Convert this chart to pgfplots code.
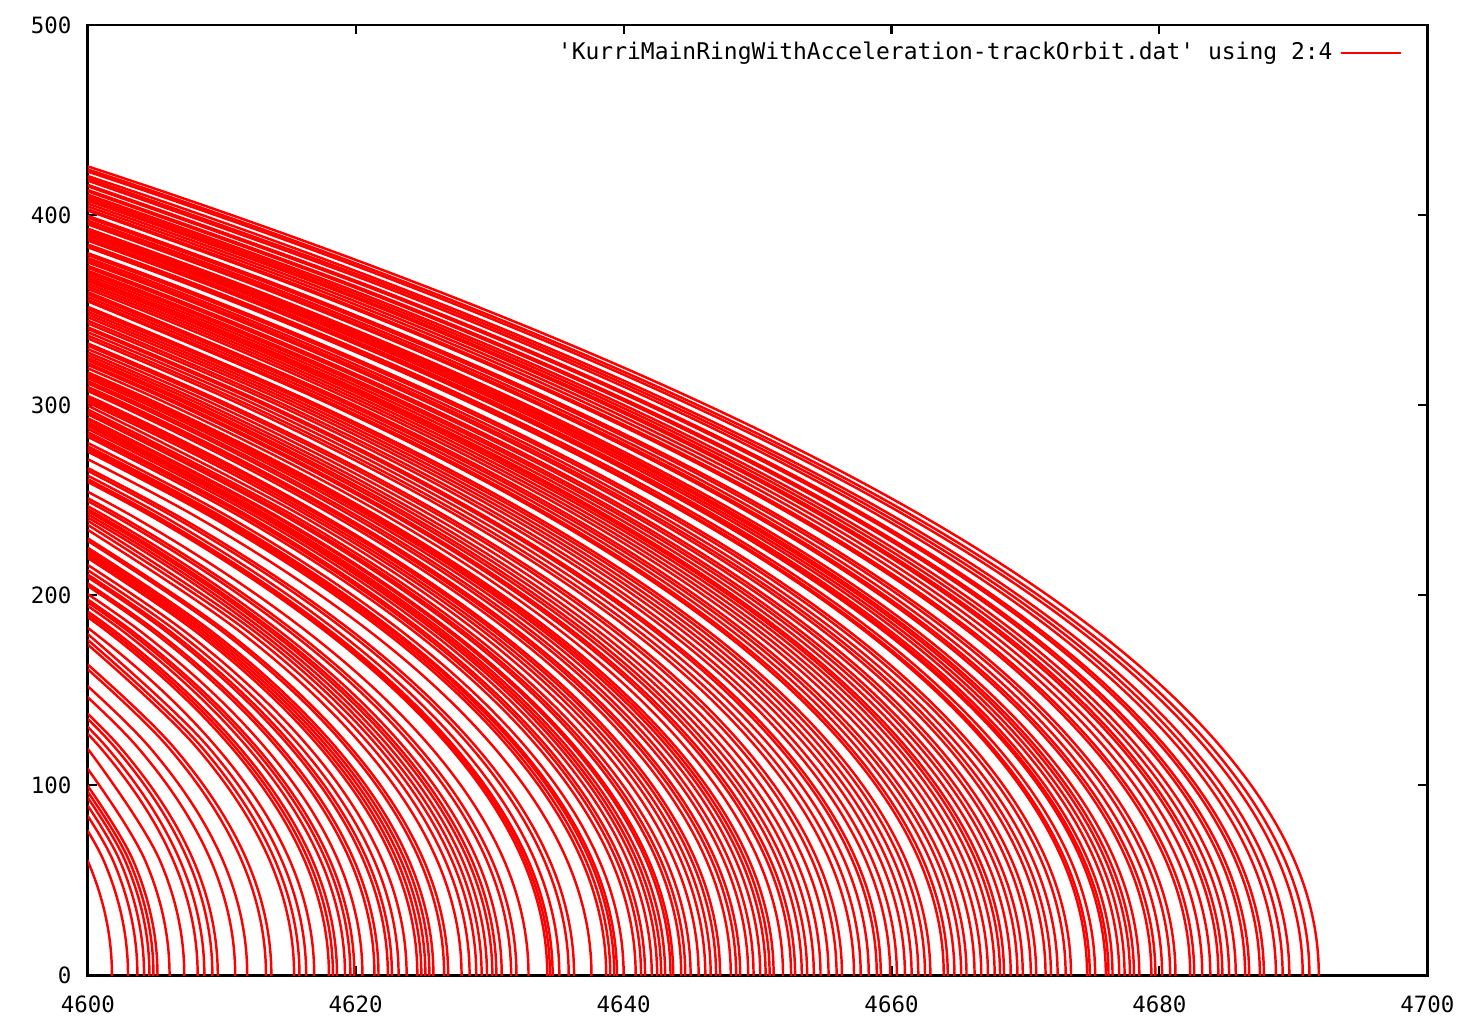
\documentclass[border=0pt]{standalone}
\usepackage{fontspec}
\usepackage{pgfplots}
\pgfplotsset{compat=1.18}
\newfontfamily\gp{DejaVu Sans Mono}
\newcommand{\gpf}{\gp\fontsize{6.4}{7}\selectfont}

% one style for every tracked orbit; points are read every 60 in y
\pgfplotsset{trk/.style={red, line width=0.7pt, smooth, tension=0.6, mark=none}}

\begin{document}
\begin{tikzpicture}
\begin{axis}[
  scale only axis,
  width=13.42cm, height=9.52cm,
  xmin=4600, xmax=4700, ymin=0, ymax=500,
  xtick={4600,4620,...,4700},
  ytick={0,100,...,500},
  axis line style={line width=0.8pt, black},
  tick style={line width=0.6pt, black},
  major tick length=0.09cm,
  tick align=inside,
  /pgf/number format/1000 sep={},
  /pgf/number format/assume math mode=true,
  tick label style={font=\gpf},
  xticklabel style={yshift=-0.08cm},
  yticklabel style={xshift=-0.04cm},
  legend plot pos=right,
  legend cell align=right,
  legend image code/.code={\draw[red, line width=0.6pt] (0.12cm,0cm) -- (0.72cm,0cm);},
  legend style={at={(rel axis cs:1,1)}, anchor=north east, xshift=-0.25cm, yshift=-0.09cm,
    draw=none, fill=none, font=\gp\fontsize{6.55}{7}\selectfont, inner sep=0pt},
]
\addplot[trk] coordinates {(4690.1,-60)(4691.9,0)(4690.1,60)(4684.6,120)(4675.5,180)(4662.7,240)(4646.2,300)(4626.1,360)(4602.4,420)(4575.0,480)};
\addlegendentry{'KurriMainRingWithAcceleration-trackOrbit.dat' using 2:4}
\addplot[trk] coordinates {(4689.4,-60)(4691.2,0)(4689.4,60)(4683.9,120)(4674.8,180)(4662.0,240)(4645.5,300)(4625.4,360)(4601.7,420)(4574.3,480)};
\addplot[trk] coordinates {(4688.9,-60)(4690.7,0)(4688.9,60)(4683.4,120)(4674.3,180)(4661.5,240)(4645.0,300)(4624.9,360)(4601.2,420)(4573.8,480)};
\addplot[trk] coordinates {(4687.9,-60)(4689.7,0)(4687.9,60)(4682.4,120)(4673.3,180)(4660.5,240)(4644.0,300)(4623.9,360)(4600.2,420)(4572.8,480)};
\addplot[trk] coordinates {(4687.4,-60)(4689.2,0)(4687.4,60)(4681.9,120)(4672.8,180)(4660.0,240)(4643.5,300)(4623.4,360)(4599.7,420)};
\addplot[trk] coordinates {(4686.9,-60)(4688.7,0)(4686.9,60)(4681.4,120)(4672.3,180)(4659.5,240)(4643.0,300)(4622.9,360)(4599.2,420)};
\addplot[trk] coordinates {(4686.0,-60)(4687.8,0)(4686.0,60)(4680.5,120)(4671.4,180)(4658.6,240)(4642.1,300)(4622.0,360)(4598.3,420)};
\addplot[trk] coordinates {(4685.7,-60)(4687.5,0)(4685.7,60)(4680.2,120)(4671.1,180)(4658.3,240)(4641.8,300)(4621.7,360)(4598.0,420)};
\addplot[trk] coordinates {(4684.9,-60)(4686.7,0)(4684.9,60)(4679.4,120)(4670.3,180)(4657.5,240)(4641.0,300)(4620.9,360)(4597.2,420)};
\addplot[trk] coordinates {(4684.6,-60)(4686.4,0)(4684.6,60)(4679.1,120)(4670.0,180)(4657.2,240)(4640.7,300)(4620.6,360)(4596.9,420)};
\addplot[trk] coordinates {(4683.9,-60)(4685.7,0)(4683.9,60)(4678.4,120)(4669.3,180)(4656.5,240)(4640.0,300)(4619.9,360)(4596.2,420)};
\addplot[trk] coordinates {(4683.4,-60)(4685.2,0)(4683.4,60)(4677.9,120)(4668.8,180)(4656.0,240)(4639.5,300)(4619.4,360)(4595.7,420)};
\addplot[trk] coordinates {(4682.9,-60)(4684.7,0)(4682.9,60)(4677.4,120)(4668.3,180)(4655.5,240)(4639.0,300)(4618.9,360)(4595.2,420)};
\addplot[trk] coordinates {(4682.6,-60)(4684.4,0)(4682.6,60)(4677.1,120)(4668.0,180)(4655.2,240)(4638.7,300)(4618.6,360)(4594.9,420)};
\addplot[trk] coordinates {(4682.0,-60)(4683.8,0)(4682.0,60)(4676.5,120)(4667.4,180)(4654.6,240)(4638.1,300)(4618.0,360)(4594.3,420)};
\addplot[trk] coordinates {(4681.4,-60)(4683.2,0)(4681.4,60)(4675.9,120)(4666.8,180)(4654.0,240)(4637.5,300)(4617.4,360)(4593.7,420)};
\addplot[trk] coordinates {(4680.8,-60)(4682.6,0)(4680.8,60)(4675.3,120)(4666.2,180)(4653.4,240)(4636.9,300)(4616.8,360)(4593.1,420)};
\addplot[trk] coordinates {(4680.5,-60)(4682.3,0)(4680.5,60)(4675.0,120)(4665.9,180)(4653.1,240)(4636.6,300)(4616.5,360)(4592.8,420)};
\addplot[trk] coordinates {(4679.4,-60)(4681.2,0)(4679.4,60)(4673.9,120)(4664.8,180)(4652.0,240)(4635.5,300)(4615.4,360)(4591.7,420)};
\addplot[trk] coordinates {(4679.0,-60)(4680.8,0)(4679.0,60)(4673.5,120)(4664.4,180)(4651.6,240)(4635.1,300)(4615.0,360)(4591.3,420)};
\addplot[trk] coordinates {(4678.4,-60)(4680.2,0)(4678.4,60)(4672.9,120)(4663.8,180)(4651.0,240)(4634.5,300)(4614.4,360)(4590.7,420)};
\addplot[trk] coordinates {(4677.9,-60)(4679.7,0)(4677.9,60)(4672.4,120)(4663.3,180)(4650.5,240)(4634.0,300)(4613.9,360)(4590.2,420)};
\addplot[trk] coordinates {(4677.6,-60)(4679.4,0)(4677.6,60)(4672.1,120)(4663.0,180)(4650.2,240)(4633.7,300)(4613.6,360)(4589.9,420)};
\addplot[trk] coordinates {(4676.7,-60)(4678.5,0)(4676.7,60)(4671.2,120)(4662.1,180)(4649.3,240)(4632.8,300)(4612.7,360)(4589.0,420)};
\addplot[trk] coordinates {(4676.3,-60)(4678.1,0)(4676.3,60)(4670.8,120)(4661.7,180)(4648.9,240)(4632.4,300)(4612.3,360)(4588.6,420)};
\addplot[trk] coordinates {(4676.0,-60)(4677.8,0)(4676.0,60)(4670.5,120)(4661.4,180)(4648.6,240)(4632.1,300)(4612.0,360)(4588.3,420)};
\addplot[trk] coordinates {(4675.6,-60)(4677.4,0)(4675.6,60)(4670.1,120)(4661.0,180)(4648.2,240)(4631.7,300)(4611.6,360)(4587.9,420)};
\addplot[trk] coordinates {(4675.2,-60)(4677.0,0)(4675.2,60)(4669.7,120)(4660.6,180)(4647.8,240)(4631.3,300)(4611.2,360)(4587.5,420)};
\addplot[trk] coordinates {(4674.7,-60)(4676.5,0)(4674.7,60)(4669.2,120)(4660.1,180)(4647.3,240)(4630.8,300)(4610.7,360)(4587.0,420)};
\addplot[trk] coordinates {(4674.4,-60)(4676.2,0)(4674.4,60)(4668.9,120)(4659.8,180)(4647.0,240)(4630.5,300)(4610.4,360)(4586.7,420)};
\addplot[trk] coordinates {(4674.2,-60)(4676.0,0)(4674.2,60)(4668.7,120)(4659.6,180)(4646.8,240)(4630.3,300)(4610.2,360)(4586.5,420)};
\addplot[trk] coordinates {(4673.4,-60)(4675.2,0)(4673.4,60)(4667.9,120)(4658.8,180)(4646.0,240)(4629.5,300)(4609.4,360)(4585.7,420)};
\addplot[trk] coordinates {(4673.0,-60)(4674.8,0)(4673.0,60)(4667.5,120)(4658.4,180)(4645.6,240)(4629.1,300)(4609.0,360)(4585.3,420)};
\addplot[trk] coordinates {(4672.8,-60)(4674.6,0)(4672.8,60)(4667.3,120)(4658.2,180)(4645.4,240)(4628.9,300)(4608.8,360)(4585.1,420)};
\addplot[trk] coordinates {(4671.6,-60)(4673.4,0)(4671.6,60)(4666.1,120)(4657.0,180)(4644.2,240)(4627.7,300)(4607.6,360)(4583.9,420)};
\addplot[trk] coordinates {(4671.2,-60)(4673.0,0)(4671.2,60)(4665.7,120)(4656.6,180)(4643.8,240)(4627.3,300)(4607.2,360)(4583.5,420)};
\addplot[trk] coordinates {(4670.6,-60)(4672.4,0)(4670.6,60)(4665.1,120)(4656.0,180)(4643.2,240)(4626.7,300)(4606.6,360)(4582.9,420)};
\addplot[trk] coordinates {(4670.1,-60)(4671.9,0)(4670.1,60)(4664.6,120)(4655.5,180)(4642.7,240)(4626.2,300)(4606.1,360)(4582.4,420)};
\addplot[trk] coordinates {(4669.7,-60)(4671.5,0)(4669.7,60)(4664.2,120)(4655.1,180)(4642.3,240)(4625.8,300)(4605.7,360)(4582.0,420)};
\addplot[trk] coordinates {(4669.0,-60)(4670.8,0)(4669.0,60)(4663.5,120)(4654.4,180)(4641.6,240)(4625.1,300)(4605.0,360)(4581.3,420)};
\addplot[trk] coordinates {(4668.6,-60)(4670.4,0)(4668.6,60)(4663.1,120)(4654.0,180)(4641.2,240)(4624.7,300)(4604.6,360)(4580.9,420)};
\addplot[trk] coordinates {(4668.0,-60)(4669.8,0)(4668.0,60)(4662.5,120)(4653.4,180)(4640.6,240)(4624.1,300)(4604.0,360)(4580.3,420)};
\addplot[trk] coordinates {(4667.6,-60)(4669.4,0)(4667.6,60)(4662.1,120)(4653.0,180)(4640.2,240)(4623.7,300)(4603.6,360)(4579.9,420)};
\addplot[trk] coordinates {(4667.1,-60)(4668.9,0)(4667.1,60)(4661.6,120)(4652.5,180)(4639.7,240)(4623.2,300)(4603.1,360)(4579.4,420)};
\addplot[trk] coordinates {(4666.6,-60)(4668.4,0)(4666.6,60)(4661.1,120)(4652.0,180)(4639.2,240)(4622.7,300)(4602.6,360)(4578.9,420)};
\addplot[trk] coordinates {(4666.3,-60)(4668.1,0)(4666.3,60)(4660.8,120)(4651.7,180)(4638.9,240)(4622.4,300)(4602.3,360)(4578.6,420)};
\addplot[trk] coordinates {(4665.9,-60)(4667.7,0)(4665.9,60)(4660.4,120)(4651.3,180)(4638.5,240)(4622.0,300)(4601.9,360)(4578.2,420)};
\addplot[trk] coordinates {(4665.4,-60)(4667.2,0)(4665.4,60)(4659.9,120)(4650.8,180)(4638.0,240)(4621.5,300)(4601.4,360)(4577.7,420)};
\addplot[trk] coordinates {(4664.9,-60)(4666.7,0)(4664.9,60)(4659.4,120)(4650.3,180)(4637.5,240)(4621.0,300)(4600.9,360)(4577.2,420)};
\addplot[trk] coordinates {(4664.4,-60)(4666.2,0)(4664.4,60)(4658.9,120)(4649.8,180)(4637.0,240)(4620.5,300)(4600.4,360)(4576.7,420)};
\addplot[trk] coordinates {(4663.8,-60)(4665.6,0)(4663.8,60)(4658.3,120)(4649.2,180)(4636.4,240)(4619.9,300)(4599.8,360)};
\addplot[trk] coordinates {(4663.4,-60)(4665.2,0)(4663.4,60)(4657.9,120)(4648.8,180)(4636.0,240)(4619.5,300)(4599.4,360)};
\addplot[trk] coordinates {(4662.9,-60)(4664.7,0)(4662.9,60)(4657.4,120)(4648.3,180)(4635.5,240)(4619.0,300)(4598.9,360)};
\addplot[trk] coordinates {(4662.4,-60)(4664.2,0)(4662.4,60)(4656.9,120)(4647.8,180)(4635.0,240)(4618.5,300)(4598.4,360)};
\addplot[trk] coordinates {(4662.1,-60)(4663.9,0)(4662.1,60)(4656.6,120)(4647.5,180)(4634.7,240)(4618.2,300)(4598.1,360)};
\addplot[trk] coordinates {(4661.1,-60)(4662.9,0)(4661.1,60)(4655.6,120)(4646.5,180)(4633.7,240)(4617.2,300)(4597.1,360)};
\addplot[trk] coordinates {(4660.7,-60)(4662.5,0)(4660.7,60)(4655.2,120)(4646.1,180)(4633.3,240)(4616.8,300)(4596.7,360)};
\addplot[trk] coordinates {(4660.2,-60)(4662.0,0)(4660.2,60)(4654.7,120)(4645.6,180)(4632.8,240)(4616.3,300)(4596.2,360)};
\addplot[trk] coordinates {(4659.7,-60)(4661.5,0)(4659.7,60)(4654.2,120)(4645.1,180)(4632.3,240)(4615.8,300)(4595.7,360)};
\addplot[trk] coordinates {(4659.2,-60)(4661.0,0)(4659.2,60)(4653.7,120)(4644.6,180)(4631.8,240)(4615.3,300)(4595.2,360)};
\addplot[trk] coordinates {(4658.6,-60)(4660.4,0)(4658.6,60)(4653.1,120)(4644.0,180)(4631.2,240)(4614.7,300)(4594.6,360)};
\addplot[trk] coordinates {(4658.1,-60)(4659.9,0)(4658.1,60)(4652.6,120)(4643.5,180)(4630.7,240)(4614.2,300)(4594.1,360)};
\addplot[trk] coordinates {(4657.4,-60)(4659.2,0)(4657.4,60)(4651.9,120)(4642.8,180)(4630.0,240)(4613.5,300)(4593.4,360)};
\addplot[trk] coordinates {(4657.1,-60)(4658.9,0)(4657.1,60)(4651.6,120)(4642.5,180)(4629.7,240)(4613.2,300)(4593.1,360)};
\addplot[trk] coordinates {(4656.5,-60)(4658.3,0)(4656.5,60)(4651.0,120)(4641.9,180)(4629.1,240)(4612.6,300)(4592.5,360)};
\addplot[trk] coordinates {(4655.9,-60)(4657.7,0)(4655.9,60)(4650.4,120)(4641.3,180)(4628.5,240)(4612.0,300)(4591.9,360)};
\addplot[trk] coordinates {(4655.4,-60)(4657.2,0)(4655.4,60)(4649.9,120)(4640.8,180)(4628.0,240)(4611.5,300)(4591.4,360)};
\addplot[trk] coordinates {(4654.5,-60)(4656.3,0)(4654.5,60)(4649.0,120)(4639.9,180)(4627.1,240)(4610.6,300)(4590.5,360)};
\addplot[trk] coordinates {(4654.1,-60)(4655.9,0)(4654.1,60)(4648.6,120)(4639.5,180)(4626.7,240)(4610.2,300)(4590.1,360)};
\addplot[trk] coordinates {(4653.5,-60)(4655.3,0)(4653.5,60)(4648.0,120)(4638.9,180)(4626.1,240)(4609.6,300)(4589.5,360)};
\addplot[trk] coordinates {(4652.9,-60)(4654.7,0)(4652.9,60)(4647.4,120)(4638.3,180)(4625.5,240)(4609.0,300)(4588.9,360)};
\addplot[trk] coordinates {(4652.4,-60)(4654.2,0)(4652.4,60)(4646.9,120)(4637.8,180)(4625.0,240)(4608.5,300)(4588.4,360)};
\addplot[trk] coordinates {(4651.9,-60)(4653.7,0)(4651.9,60)(4646.4,120)(4637.3,180)(4624.5,240)(4608.0,300)(4587.9,360)};
\addplot[trk] coordinates {(4651.5,-60)(4653.3,0)(4651.5,60)(4646.0,120)(4636.9,180)(4624.1,240)(4607.6,300)(4587.5,360)};
\addplot[trk] coordinates {(4651.0,-60)(4652.8,0)(4651.0,60)(4645.5,120)(4636.4,180)(4623.6,240)(4607.1,300)(4587.0,360)};
\addplot[trk] coordinates {(4650.7,-60)(4652.5,0)(4650.7,60)(4645.2,120)(4636.1,180)(4623.3,240)(4606.8,300)(4586.7,360)};
\addplot[trk] coordinates {(4650.1,-60)(4651.9,0)(4650.1,60)(4644.6,120)(4635.5,180)(4622.7,240)(4606.2,300)(4586.1,360)};
\addplot[trk] coordinates {(4649.4,-60)(4651.2,0)(4649.4,60)(4643.9,120)(4634.8,180)(4622.0,240)(4605.5,300)(4585.4,360)};
\addplot[trk] coordinates {(4649.1,-60)(4650.9,0)(4649.1,60)(4643.6,120)(4634.5,180)(4621.7,240)(4605.2,300)(4585.1,360)};
\addplot[trk] coordinates {(4648.8,-60)(4650.6,0)(4648.8,60)(4643.3,120)(4634.2,180)(4621.4,240)(4604.9,300)(4584.8,360)};
\addplot[trk] coordinates {(4648.4,-60)(4650.2,0)(4648.4,60)(4642.9,120)(4633.8,180)(4621.0,240)(4604.5,300)(4584.4,360)};
\addplot[trk] coordinates {(4647.9,-60)(4649.7,0)(4647.9,60)(4642.4,120)(4633.3,180)(4620.5,240)(4604.0,300)(4583.9,360)};
\addplot[trk] coordinates {(4647.5,-60)(4649.3,0)(4647.5,60)(4642.0,120)(4632.9,180)(4620.1,240)(4603.6,300)(4583.5,360)};
\addplot[trk] coordinates {(4646.9,-60)(4648.7,0)(4646.9,60)(4641.4,120)(4632.3,180)(4619.5,240)(4603.0,300)(4582.9,360)};
\addplot[trk] coordinates {(4646.6,-60)(4648.4,0)(4646.6,60)(4641.1,120)(4632.0,180)(4619.2,240)(4602.7,300)(4582.6,360)};
\addplot[trk] coordinates {(4646.2,-60)(4648.0,0)(4646.2,60)(4640.7,120)(4631.6,180)(4618.8,240)(4602.3,300)(4582.2,360)};
\addplot[trk] coordinates {(4645.4,-60)(4647.2,0)(4645.4,60)(4639.9,120)(4630.8,180)(4618.0,240)(4601.5,300)(4581.4,360)};
\addplot[trk] coordinates {(4645.1,-60)(4646.9,0)(4645.1,60)(4639.6,120)(4630.5,180)(4617.7,240)(4601.2,300)(4581.1,360)};
\addplot[trk] coordinates {(4644.7,-60)(4646.5,0)(4644.7,60)(4639.2,120)(4630.1,180)(4617.3,240)(4600.8,300)(4580.7,360)};
\addplot[trk] coordinates {(4644.3,-60)(4646.1,0)(4644.3,60)(4638.8,120)(4629.7,180)(4616.9,240)(4600.4,300)(4580.3,360)};
\addplot[trk] coordinates {(4643.8,-60)(4645.6,0)(4643.8,60)(4638.3,120)(4629.2,180)(4616.4,240)(4599.9,300)};
\addplot[trk] coordinates {(4643.2,-60)(4645.0,0)(4643.2,60)(4637.7,120)(4628.6,180)(4615.8,240)(4599.3,300)};
\addplot[trk] coordinates {(4642.8,-60)(4644.6,0)(4642.8,60)(4637.3,120)(4628.2,180)(4615.4,240)(4598.9,300)};
\addplot[trk] coordinates {(4642.5,-60)(4644.3,0)(4642.5,60)(4637.0,120)(4627.9,180)(4615.1,240)(4598.6,300)};
\addplot[trk] coordinates {(4641.9,-60)(4643.7,0)(4641.9,60)(4636.4,120)(4627.3,180)(4614.5,240)(4598.0,300)};
\addplot[trk] coordinates {(4641.7,-60)(4643.5,0)(4641.7,60)(4636.2,120)(4627.1,180)(4614.3,240)(4597.8,300)};
\addplot[trk] coordinates {(4641.3,-60)(4643.1,0)(4641.3,60)(4635.8,120)(4626.7,180)(4613.9,240)(4597.4,300)};
\addplot[trk] coordinates {(4641.0,-60)(4642.8,0)(4641.0,60)(4635.5,120)(4626.4,180)(4613.6,240)(4597.1,300)};
\addplot[trk] coordinates {(4640.7,-60)(4642.5,0)(4640.7,60)(4635.2,120)(4626.1,180)(4613.3,240)(4596.8,300)};
\addplot[trk] coordinates {(4640.3,-60)(4642.1,0)(4640.3,60)(4634.8,120)(4625.7,180)(4612.9,240)(4596.4,300)};
\addplot[trk] coordinates {(4639.8,-60)(4641.6,0)(4639.8,60)(4634.3,120)(4625.2,180)(4612.4,240)(4595.9,300)};
\addplot[trk] coordinates {(4639.5,-60)(4641.3,0)(4639.5,60)(4634.0,120)(4624.9,180)(4612.1,240)(4595.6,300)};
\addplot[trk] coordinates {(4639.1,-60)(4640.9,0)(4639.1,60)(4633.6,120)(4624.5,180)(4611.7,240)(4595.2,300)};
\addplot[trk] coordinates {(4638.2,-60)(4640.0,0)(4638.2,60)(4632.7,120)(4623.6,180)(4610.8,240)(4594.3,300)};
\addplot[trk] coordinates {(4637.7,-60)(4639.5,0)(4637.7,60)(4632.2,120)(4623.1,180)(4610.3,240)(4593.8,300)};
\addplot[trk] coordinates {(4637.5,-60)(4639.3,0)(4637.5,60)(4632.0,120)(4622.9,180)(4610.1,240)(4593.6,300)};
\addplot[trk] coordinates {(4637.2,-60)(4639.0,0)(4637.2,60)(4631.7,120)(4622.6,180)(4609.8,240)(4593.3,300)};
\addplot[trk] coordinates {(4636.9,-60)(4638.7,0)(4636.9,60)(4631.4,120)(4622.3,180)(4609.5,240)(4593.0,300)};
\addplot[trk] coordinates {(4635.8,-60)(4637.6,0)(4635.8,60)(4630.3,120)(4621.2,180)(4608.4,240)(4591.9,300)};
\addplot[trk] coordinates {(4634.5,-60)(4636.3,0)(4634.5,60)(4629.0,120)(4619.9,180)(4607.1,240)(4590.6,300)};
\addplot[trk] coordinates {(4634.1,-60)(4635.9,0)(4634.1,60)(4628.6,120)(4619.5,180)(4606.7,240)(4590.2,300)};
\addplot[trk] coordinates {(4633.4,-60)(4635.2,0)(4633.4,60)(4627.9,120)(4618.8,180)(4606.0,240)(4589.5,300)};
\addplot[trk] coordinates {(4632.9,-60)(4634.7,0)(4632.9,60)(4627.4,120)(4618.3,180)(4605.5,240)(4589.0,300)};
\addplot[trk] coordinates {(4632.7,-60)(4634.5,0)(4632.7,60)(4627.2,120)(4618.1,180)(4605.3,240)(4588.8,300)};
\addplot[trk] coordinates {(4632.5,-60)(4634.3,0)(4632.5,60)(4627.0,120)(4617.9,180)(4605.1,240)(4588.6,300)};
\addplot[trk] coordinates {(4631.1,-60)(4632.9,0)(4631.1,60)(4625.6,120)(4616.5,180)(4603.7,240)(4587.2,300)};
\addplot[trk] coordinates {(4630.2,-60)(4632.0,0)(4630.2,60)(4624.7,120)(4615.6,180)(4602.8,240)(4586.3,300)};
\addplot[trk] coordinates {(4629.8,-60)(4631.6,0)(4629.8,60)(4624.3,120)(4615.2,180)(4602.4,240)(4585.9,300)};
\addplot[trk] coordinates {(4629.1,-60)(4630.9,0)(4629.1,60)(4623.6,120)(4614.5,180)(4601.7,240)(4585.2,300)};
\addplot[trk] coordinates {(4628.7,-60)(4630.5,0)(4628.7,60)(4623.2,120)(4614.1,180)(4601.3,240)(4584.8,300)};
\addplot[trk] coordinates {(4628.4,-60)(4630.2,0)(4628.4,60)(4622.9,120)(4613.8,180)(4601.0,240)(4584.5,300)};
\addplot[trk] coordinates {(4628.0,-60)(4629.8,0)(4628.0,60)(4622.5,120)(4613.4,180)(4600.6,240)(4584.1,300)};
\addplot[trk] coordinates {(4627.6,-60)(4629.4,0)(4627.6,60)(4622.1,120)(4613.0,180)(4600.2,240)(4583.7,300)};
\addplot[trk] coordinates {(4627.2,-60)(4629.0,0)(4627.2,60)(4621.7,120)(4612.6,180)(4599.8,240)};
\addplot[trk] coordinates {(4626.7,-60)(4628.5,0)(4626.7,60)(4621.2,120)(4612.1,180)(4599.3,240)};
\addplot[trk] coordinates {(4626.1,-60)(4627.9,0)(4626.1,60)(4620.6,120)(4611.5,180)(4598.7,240)};
\addplot[trk] coordinates {(4625.1,-60)(4626.9,0)(4625.1,60)(4619.6,120)(4610.5,180)(4597.7,240)};
\addplot[trk] coordinates {(4624.8,-60)(4626.6,0)(4624.8,60)(4619.3,120)(4610.2,180)(4597.4,240)};
\addplot[trk] coordinates {(4624.0,-60)(4625.8,0)(4624.0,60)(4618.5,120)(4609.4,180)(4596.6,240)};
\addplot[trk] coordinates {(4623.7,-60)(4625.5,0)(4623.7,60)(4618.2,120)(4609.1,180)(4596.3,240)};
\addplot[trk] coordinates {(4623.4,-60)(4625.2,0)(4623.4,60)(4617.9,120)(4608.8,180)(4596.0,240)};
\addplot[trk] coordinates {(4623.1,-60)(4624.9,0)(4623.1,60)(4617.6,120)(4608.5,180)(4595.7,240)};
\addplot[trk] coordinates {(4622.8,-60)(4624.6,0)(4622.8,60)(4617.3,120)(4608.2,180)(4595.4,240)};
\addplot[trk] coordinates {(4622.0,-60)(4623.8,0)(4622.0,60)(4616.5,120)(4607.4,180)(4594.6,240)};
\addplot[trk] coordinates {(4621.4,-60)(4623.2,0)(4621.4,60)(4615.9,120)(4606.8,180)(4594.0,240)};
\addplot[trk] coordinates {(4620.9,-60)(4622.7,0)(4620.9,60)(4615.4,120)(4606.3,180)(4593.5,240)};
\addplot[trk] coordinates {(4620.6,-60)(4622.4,0)(4620.6,60)(4615.1,120)(4606.0,180)(4593.2,240)};
\addplot[trk] coordinates {(4619.9,-60)(4621.7,0)(4619.9,60)(4614.4,120)(4605.3,180)(4592.5,240)};
\addplot[trk] coordinates {(4619.6,-60)(4621.4,0)(4619.6,60)(4614.1,120)(4605.0,180)(4592.2,240)};
\addplot[trk] coordinates {(4618.7,-60)(4620.5,0)(4618.7,60)(4613.2,120)(4604.1,180)(4591.3,240)};
\addplot[trk] coordinates {(4618.1,-60)(4619.9,0)(4618.1,60)(4612.6,120)(4603.5,180)(4590.7,240)};
\addplot[trk] coordinates {(4617.8,-60)(4619.6,0)(4617.8,60)(4612.3,120)(4603.2,180)(4590.4,240)};
\addplot[trk] coordinates {(4617.4,-60)(4619.2,0)(4617.4,60)(4611.9,120)(4602.8,180)(4590.0,240)};
\addplot[trk] coordinates {(4616.8,-60)(4618.6,0)(4616.8,60)(4611.3,120)(4602.2,180)(4589.4,240)};
\addplot[trk] coordinates {(4616.5,-60)(4618.3,0)(4616.5,60)(4611.0,120)(4601.9,180)(4589.1,240)};
\addplot[trk] coordinates {(4616.2,-60)(4618.0,0)(4616.2,60)(4610.7,120)(4601.6,180)(4588.8,240)};
\addplot[trk] coordinates {(4615.1,-60)(4616.9,0)(4615.1,60)(4609.6,120)(4600.5,180)(4587.7,240)};
\addplot[trk] coordinates {(4614.5,-60)(4616.3,0)(4614.5,60)(4609.0,120)(4599.9,180)};
\addplot[trk] coordinates {(4614.0,-60)(4615.8,0)(4614.0,60)(4608.5,120)(4599.4,180)};
\addplot[trk] coordinates {(4613.6,-60)(4615.4,0)(4613.6,60)(4608.1,120)(4599.0,180)};
\addplot[trk] coordinates {(4611.9,-60)(4613.7,0)(4611.9,60)(4606.4,120)(4597.3,180)};
\addplot[trk] coordinates {(4611.5,-60)(4613.3,0)(4611.5,60)(4606.0,120)(4596.9,180)};
\addplot[trk] coordinates {(4610.1,-60)(4611.9,0)(4610.1,60)(4604.6,120)(4595.5,180)};
\addplot[trk] coordinates {(4609.2,-60)(4611.0,0)(4609.2,60)(4603.7,120)(4594.6,180)};
\addplot[trk] coordinates {(4607.9,-60)(4609.7,0)(4607.9,60)(4602.4,120)(4593.3,180)};
\addplot[trk] coordinates {(4607.5,-60)(4609.3,0)(4607.5,60)(4602.0,120)(4592.9,180)};
\addplot[trk] coordinates {(4606.9,-60)(4608.7,0)(4606.9,60)(4601.4,120)(4592.3,180)};
\addplot[trk] coordinates {(4606.4,-60)(4608.2,0)(4606.4,60)(4600.9,120)(4591.8,180)};
\addplot[trk] coordinates {(4605.4,-60)(4607.2,0)(4605.4,60)(4599.9,120)};
\addplot[trk] coordinates {(4604.3,-60)(4606.1,0)(4604.3,60)(4598.8,120)};
\addplot[trk] coordinates {(4603.4,-60)(4605.2,0)(4603.4,60)(4597.9,120)};
\addplot[trk] coordinates {(4603.1,-60)(4604.9,0)(4603.1,60)(4597.6,120)};
\addplot[trk] coordinates {(4602.8,-60)(4604.6,0)(4602.8,60)(4597.3,120)};
\addplot[trk] coordinates {(4602.4,-60)(4604.2,0)(4602.4,60)(4596.9,120)};
\addplot[trk] coordinates {(4601.9,-60)(4603.7,0)(4601.9,60)(4596.4,120)};
\addplot[trk] coordinates {(4601.2,-60)(4603.0,0)(4601.2,60)(4595.7,120)};
\addplot[trk] coordinates {(4600.0,-60)(4601.8,0)(4600.0,60)(4594.5,120)};
\end{axis}
% keep the margins of the reference round the axis
\path (current axis.south west) ++(-0.88cm,-0.42cm) rectangle ([shift={(0.36cm,0.25cm)}]current axis.north east);
\end{tikzpicture}
\end{document}
